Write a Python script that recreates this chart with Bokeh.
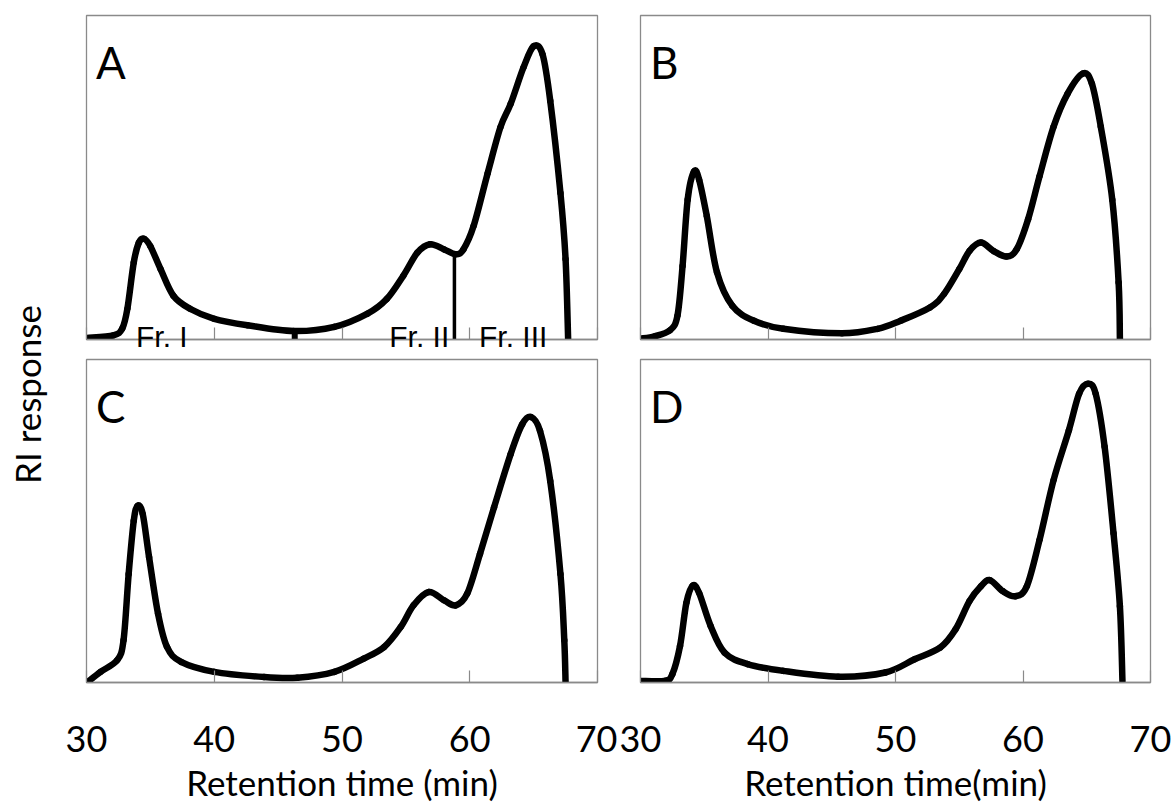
import numpy as np
from bokeh.plotting import figure
from bokeh.models import Range1d, FixedTicker, Label, LinearAxis
from bokeh.layouts import row, column
from bokeh.embed import file_html
from bokeh.resources import INLINE

# ---------------- data (retention time in min, RI response in arbitrary units) ----------------
tick_values = [30, 40, 50, 60, 70]
tick_labels = ["30", "40", "50", "60", "70"]
panel_letters = ["A", "B", "C", "D"]
fraction_names = ["Fr. I", "Fr. II", "Fr. III"]
fraction_centres = [35.9, 56.05, 63.4]
fraction_cuts = [46.3, 58.8]

A_x = [30.05, 32.1, 32.8, 33.2, 33.7, 34.1, 34.5, 35.0, 35.8, 36.8, 38.1, 40.0, 42.6, 46.2,
       49.4, 52.0, 53.5, 54.8, 55.9, 56.9, 58.0, 58.9, 59.5, 60.3, 61.4, 62.4, 63.2, 64.2,
       65.0, 65.7, 66.3, 67.1, 67.5, 67.7]
A_y = [0.5, 1.3, 3.4, 9.5, 23.8, 29.9, 31.1, 28.8, 21.7, 13.5, 9.5, 6.4, 4.4, 2.6,
       3.9, 8.0, 12.5, 19.7, 26.8, 29.4, 27.8, 26.3, 27.8, 35.0, 51.3, 65.5, 72.7, 83.9,
       90.5, 88.0, 73.7, 45.2, 24.8, 0.3]

B_x = [30.0, 31.1, 32.3, 32.9, 33.3, 33.7, 34.2, 34.6, 35.2, 36.0, 37.2, 38.9, 41.2, 45.8,
       48.6, 50.4, 52.7, 53.8, 55.0, 55.8, 56.7, 57.7, 58.7, 59.5, 60.4, 61.3, 62.4, 63.5,
       64.7, 65.4, 66.1, 67.0, 67.5, 67.6]
B_y = [0.3, 1.0, 2.8, 7.4, 22.7, 43.2, 51.9, 49.3, 38.1, 20.7, 10.4, 5.8, 3.3, 1.9,
       3.3, 5.8, 9.9, 14.0, 21.7, 27.3, 29.9, 27.3, 25.6, 27.8, 37.1, 50.4, 65.7, 75.9,
       82.1, 79.0, 65.7, 43.2, 17.6, 0.2]

C_x = [30.1, 31.1, 32.4, 32.9, 33.3, 33.7, 34.0, 34.4, 34.9, 35.6, 36.3, 37.4, 40.0, 43.9,
       46.5, 49.4, 51.7, 53.3, 54.6, 55.6, 56.8, 58.0, 58.9, 59.8, 60.8, 61.9, 63.2, 64.1,
       64.8, 65.5, 66.3, 67.1, 67.4, 67.5]
C_y = [0.2, 3.3, 6.9, 13.1, 33.6, 50.1, 54.7, 52.2, 38.8, 21.3, 11.0, 6.4, 3.3, 1.7,
       1.5, 3.3, 7.4, 11.0, 17.2, 23.9, 28.0, 25.4, 23.9, 27.5, 39.8, 54.2, 70.7, 79.9,
       82.2, 77.9, 62.4, 33.6, 13.1, 0.2]

D_x = [30.0, 31.9, 32.5, 33.1, 33.6, 34.1, 34.6, 35.5, 36.6, 38.4, 41.2, 45.5, 49.2, 51.5,
       53.5, 54.7, 55.8, 56.7, 57.4, 58.4, 59.4, 60.3, 61.3, 62.4, 63.6, 64.4, 65.1, 65.7,
       66.4, 67.1, 67.6, 67.8]
D_y = [0.5, 0.5, 2.6, 11.3, 24.7, 30.0, 27.7, 17.5, 9.2, 5.7, 3.6, 1.8, 3.1, 7.2,
       10.8, 16.4, 25.2, 29.8, 31.7, 28.3, 26.7, 29.8, 44.2, 62.7, 78.1, 89.4, 92.5, 89.4,
       73.0, 46.2, 23.6, 0.5]

FONT = "Lato"
FRAME_GREY = "#8a8a8a"


def smooth_trace(p, xs, ys, **kw):
    """Draw the read points as one smooth Catmull-Rom curve (Bokeh bezier glyph)."""
    x = np.asarray(xs, float)
    y = np.asarray(ys, float)
    n = len(x)
    i = np.arange(n - 1)
    im1 = np.maximum(i - 1, 0)
    ip2 = np.minimum(i + 2, n - 1)
    cx0 = x[i] + (x[i + 1] - x[im1]) / 6.0
    cy0 = y[i] + (y[i + 1] - y[im1]) / 6.0
    cx1 = x[i + 1] - (x[ip2] - x[i]) / 6.0
    cy1 = y[i + 1] - (y[ip2] - y[i]) / 6.0
    p.bezier(x0=x[:-1], y0=y[:-1], x1=x[1:], y1=y[1:],
             cx0=cx0, cy0=cy0, cx1=cx1, cy1=cy1, **kw)


def make_panel(xs, ys, letter, width, height, left, right, top, bottom, axis_title=None):
    p = figure(width=width, height=height, output_backend="svg", toolbar_location=None,
               x_range=Range1d(30, 70), y_range=Range1d(0, 100),
               min_border_left=left, min_border_right=right,
               min_border_top=top, min_border_bottom=bottom,
               background_fill_color="white", border_fill_color="white")
    p.outline_line_color = FRAME_GREY
    p.outline_line_width = 1.3
    p.grid.visible = False
    p.yaxis.visible = False
    ax = p.xaxis[0]
    ax.ticker = FixedTicker(ticks=tick_values)
    ax.major_tick_in = 12
    ax.major_tick_out = 0
    ax.minor_tick_line_color = None
    ax.major_tick_line_color = FRAME_GREY
    ax.major_tick_line_width = 1.2
    ax.axis_line_color = FRAME_GREY
    ax.axis_line_width = 1.3
    if axis_title is None:
        ax.major_label_text_font_size = "0px"
        ax.major_label_standoff = 0
        ax.major_label_overrides = {v: "" for v in tick_values}
    else:
        ax.major_label_overrides = {v: s for v, s in zip(tick_values, tick_labels)}
        ax.major_label_text_font = FONT
        ax.major_label_text_font_size = "36px"
        ax.major_label_text_color = "black"
        ax.major_label_standoff = 43
        ax.axis_label = axis_title
        ax.axis_label_text_font = FONT
        ax.axis_label_text_font_size = "35px"
        ax.axis_label_text_font_style = "normal"
        ax.axis_label_text_color = "black"
        ax.axis_label_standoff = 6
    smooth_trace(p, xs, ys, line_color="black", line_width=6.5, line_cap="round")
    p.add_layout(Label(x=30.75, y=85.5, text=letter, text_font=FONT, text_font_size="44px",
                       text_color="black", text_baseline="alphabetic", text_align="left"))
    return p


# left label column
lab = figure(width=50, height=805, output_backend="svg", toolbar_location=None,
             x_range=Range1d(0, 50), y_range=Range1d(0, 805),
             min_border=0, outline_line_color=None)
lab.axis.visible = False
lab.grid.visible = False
lab.add_layout(Label(x=26, y=411, text="RI response", angle=90, angle_units="deg",
                     text_font=FONT, text_font_size="35px", text_color="black",
                     text_align="center", text_baseline="middle"))

pA = make_panel(A_x, A_y, panel_letters[0], 567, 355, 36, 20, 14, 14)
pB = make_panel(B_x, B_y, panel_letters[1], 556, 355, 23, 23, 15, 14)
pC = make_panel(C_x, C_y, panel_letters[2], 567, 450, 36, 20, 3, 122, "Retention time (min)")
pD = make_panel(D_x, D_y, panel_letters[3], 556, 450, 23, 23, 4, 121, "Retention time(min)")

# fraction dividers in panel A (from the baseline up to the trace)
cut_tops = np.interp(fraction_cuts, A_x, A_y)
pA.segment(x0=fraction_cuts[:1], y0=[0], x1=fraction_cuts[:1], y1=list(cut_tops[:1]),
           line_color="black", line_width=6)
pA.segment(x0=fraction_cuts[1:], y0=[0], x1=fraction_cuts[1:], y1=list(cut_tops[1:]),
           line_color="black", line_width=3.5)

# fraction names sit on the bottom frame line of panel A
fr_axis = LinearAxis(ticker=FixedTicker(ticks=fraction_centres),
                     major_label_overrides={v: s for v, s in zip(fraction_centres, fraction_names)},
                     axis_line_color=None, major_tick_line_color=None,
                     minor_tick_line_color=None, major_tick_in=0, major_tick_out=0,
                     major_label_standoff=-20,
                     major_label_text_font="Liberation Sans",
                     major_label_text_font_size="30px",
                     major_label_text_color="black")
pA.add_layout(fr_axis, "below")

layout = row(lab, column(row(pA, pB), row(pC, pD)))

open("out.html", "w").write(file_html(layout, INLINE))
